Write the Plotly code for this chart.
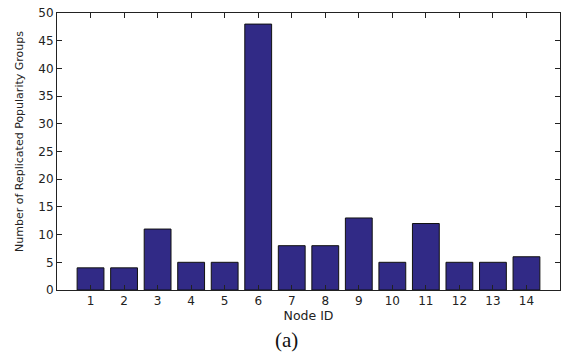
import plotly.graph_objects as go

node_ids = list(range(1, 15))
groups = [4, 4, 11, 5, 5, 48, 8, 8, 13, 5, 12, 5, 5, 6]
y_ticks = list(range(0, 51, 5))

fig = go.Figure()
fig.add_trace(go.Bar(
    x=node_ids, y=groups, width=0.8,
    marker=dict(color="#312A86", line=dict(color="#111111", width=1)),
))

sans = "DejaVu Sans, Arial, sans-serif"
fig.update_layout(
    width=564, height=354,
    margin=dict(l=57, r=4, t=13, b=64),
    paper_bgcolor="white", plot_bgcolor="white",
    showlegend=False,
    font=dict(family=sans, size=12, color="#222222"),
    xaxis=dict(
        range=[0, 15], tickmode="array", tickvals=node_ids,
        ticktext=[str(n) for n in node_ids],
        ticks="inside", ticklen=5, tickcolor="#222222",
        showline=True, linecolor="#222222", linewidth=1, mirror="ticks",
        showgrid=False, zeroline=False,
        title=dict(text="Node ID", font=dict(size=12.5), standoff=3),
        tickfont=dict(size=12),
    ),
    yaxis=dict(
        range=[0, 50], tickmode="array", tickvals=y_ticks,
        ticks="inside", ticklen=5, tickcolor="#222222",
        showline=True, linecolor="#222222", linewidth=1, mirror="ticks",
        showgrid=False, zeroline=False,
        tickfont=dict(size=12),
    ),
    annotations=[
        dict(
            text="Number of Replicated Popularity Groups", textangle=-90,
            xref="paper", yref="paper", x=(19 - 57) / 503, y=(290 - 142) / 277,
            xanchor="center", yanchor="middle", showarrow=False,
            font=dict(family=sans, size=11, color="#222222"),
        ),
        dict(
            text="(a)", xref="paper", yref="paper", x=(286 - 57) / 503, y=(290 - 340) / 277,
            xanchor="center", yanchor="middle", showarrow=False,
            font=dict(family="Liberation Serif, DejaVu Serif, serif", size=21, color="#111111"),
        ),
    ],
)

fig.write_html("out.html")
